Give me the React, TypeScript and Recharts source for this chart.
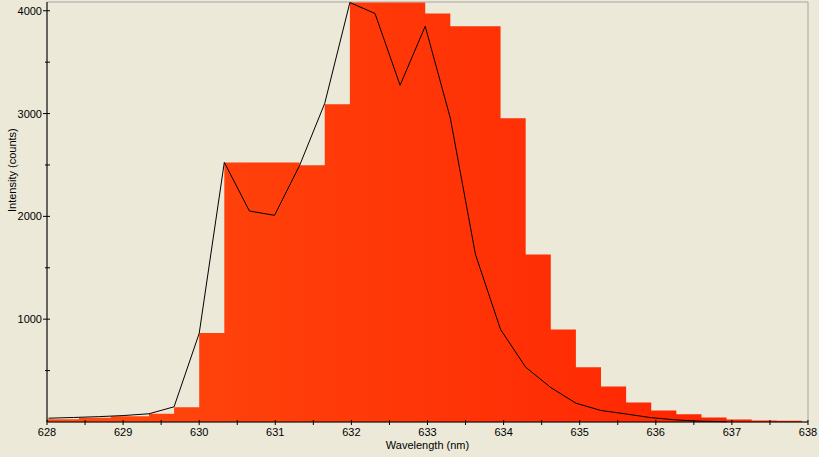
import React from 'react';
import {
  ComposedChart,
  Area,
  Line,
  XAxis,
  YAxis,
  CartesianGrid,
} from 'recharts';

// spectrum trace (black line)
const lineWl = [
  628.02, 628.35, 628.68, 629.01, 629.34, 629.67, 630.0, 630.33, 630.66, 630.99,
  631.32, 631.65, 631.98, 632.31, 632.64, 632.97, 633.3, 633.63, 633.96, 634.29,
  634.62, 634.95, 635.28, 635.61, 635.94, 636.27, 636.6, 636.93,
];
const lineCounts = [
  37, 44, 52, 63, 80, 148, 862, 2525, 2052, 2010,
  2496, 3100, 4080, 3973, 3275, 3849, 2955, 1630, 900, 533,
  335, 183, 112, 78, 42, 20, 8, 3,
];

// histogram bins (start of each bin) and their counts
const binStarts = [
  628.0, 628.42, 628.84, 629.34, 629.67, 630.0, 630.33, 630.66, 630.99, 631.32,
  631.65, 631.98, 632.31, 632.64, 632.97, 633.3, 633.63, 633.96, 634.29, 634.62,
  634.95, 635.28, 635.61, 635.94, 636.27, 636.6, 636.93, 637.26, 637.59,
];
const binCounts = [
  27, 41, 56, 80, 144, 865, 2525, 2525, 2525, 2496,
  3090, 4080, 4080, 4080, 3973, 3849, 3849, 2955, 1630, 900,
  533, 345, 190, 112, 76, 44, 24, 15, 13,
];
const binEnd = 637.92;

const xTicks = [
  628, 628.5, 629, 629.5, 630, 630.5, 631, 631.5, 632, 632.5, 633,
  633.5, 634, 634.5, 635, 635.5, 636, 636.5, 637, 637.5, 638,
];
const yTicks = [500, 1000, 1500, 2000, 2500, 3000, 3500, 4000];
const gridX = [629, 630, 631, 632, 633, 634, 635, 636, 637];
const gridY = [1000, 2000, 3000, 4000];

// merge both series on one wavelength axis
const rows: Record<string, any> = {};
const rowAt = (wl: number) => {
  const key = wl.toFixed(2);
  if (!rows[key]) rows[key] = { wl };
  return rows[key];
};
lineWl.forEach((wl, i) => (rowAt(wl).line = lineCounts[i]));
binStarts.forEach((wl, i) => (rowAt(wl).hist = binCounts[i]));
rowAt(binEnd).hist = binCounts[binCounts.length - 1];
const data = Object.values(rows).sort((a: any, b: any) => a.wl - b.wl);

const FONT = '"Liberation Sans", Arial, sans-serif';

const XTick = ({ x, y, payload }: any) => {
  const major = Number.isInteger(payload.value);
  return (
    <g>
      <line x1={x} x2={x} y1={y - 2} y2={y + 3} stroke="#000" />
      {major && (
        <text x={x} y={y + 14} textAnchor="middle" fontSize={11} fontFamily={FONT} fill="#000">
          {payload.value}
        </text>
      )}
    </g>
  );
};

const YTick = ({ x, y, payload }: any) => {
  const major = payload.value % 1000 === 0;
  return (
    <g>
      <line x1={major ? x - 4 : x - 2} x2={x + 3} y1={y} y2={y} stroke="#000" />
      {major && (
        <text x={x - 5} y={y + 4} textAnchor="end" fontSize={11} fontFamily={FONT} fill="#000">
          {payload.value}
        </text>
      )}
    </g>
  );
};

export default function App() {
  return (
    <div style={{ position: 'absolute', left: 0, top: 0, width: 819, height: 457, background: '#ECE9D8' }}>
      <ComposedChart
        width={819}
        height={457}
        data={data}
        margin={{ top: 2, right: 11, left: 0, bottom: 0 }}
      >
        <defs>
          <linearGradient id="histFill" x1="0" y1="0" x2="1" y2="0">
            <stop offset="0%" stopColor="#FF4B0E" />
            <stop offset="100%" stopColor="#FF2000" />
          </linearGradient>
        </defs>

        <XAxis xAxisId="g" type="number" domain={[628, 638]} ticks={gridX} hide />
        <YAxis yAxisId="g" type="number" domain={[0, 4085]} ticks={gridY} hide />
        <CartesianGrid xAxisId="g" yAxisId="g" stroke="#A4A4A4" />

        <XAxis
          dataKey="wl"
          type="number"
          domain={[628, 638]}
          ticks={xTicks}
          interval={0}
          height={35}
          tickSize={0}
          tickMargin={0}
          tickLine={false}
          axisLine={{ stroke: '#000' }}
          tick={<XTick />}
          label={{ value: 'Wavelength (nm)', position: 'insideBottom', offset: 8, fontSize: 11, fontFamily: FONT, fill: '#000' }}
        />
        <YAxis
          type="number"
          domain={[0, 4085]}
          ticks={yTicks}
          interval={0}
          width={47}
          tickSize={0}
          tickMargin={0}
          tickLine={false}
          axisLine={{ stroke: '#000' }}
          tick={<YTick />}
          label={{ value: 'Intensity (counts)', angle: -90, position: 'insideLeft', offset: 12, fontSize: 11, fontFamily: FONT, fill: '#000' }}
        />

        <Area
          type="stepAfter"
          dataKey="hist"
          fill="url(#histFill)"
          fillOpacity={1}
          stroke="none"
          connectNulls
          isAnimationActive={false}
        />
        <Line
          type="linear"
          dataKey="line"
          stroke="#000"
          strokeWidth={1}
          dot={false}
          activeDot={false}
          connectNulls
          isAnimationActive={false}
        />
      </ComposedChart>
    </div>
  );
}
